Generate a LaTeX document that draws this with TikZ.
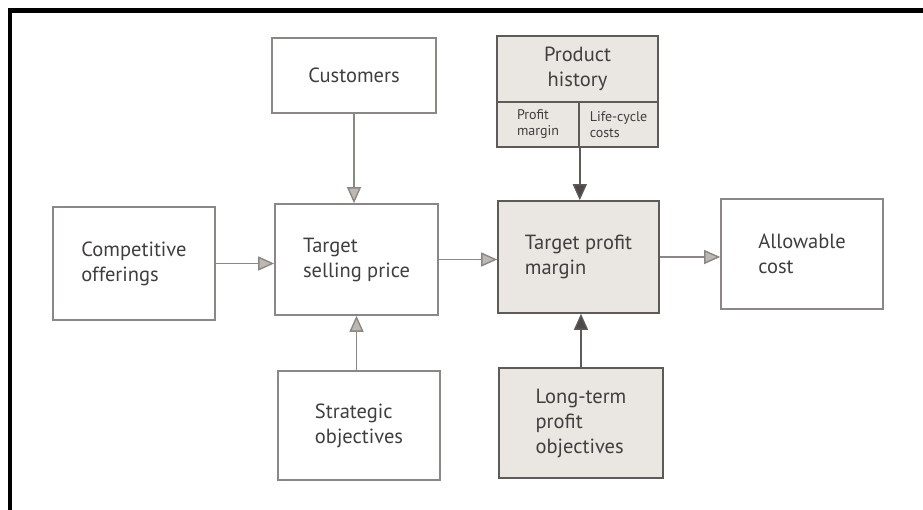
\documentclass[tikz,border=0pt]{standalone}
\usepackage{fontspec}
\setmainfont{PT Sans}
\usetikzlibrary{arrows.meta}
\definecolor{boxline}{HTML}{8A8784}
\definecolor{darkline}{HTML}{5E5A58}
\definecolor{shade}{HTML}{EAE6E1}
\definecolor{tiplight}{HTML}{BDB8B3}
\definecolor{tipdark}{HTML}{4E4848}
\definecolor{ink}{HTML}{403E3E}

\begin{document}
\begin{tikzpicture}[x=1pt,y=-1pt,
    box/.style={draw=boxline,line width=1.6pt,align=left,text=ink,inner sep=0pt,
        font=\fontsize{20.5}{25}\selectfont},
    shadebox/.style={box,draw=darkline,fill=shade},
    small/.style={font=\fontsize{14}{16}\selectfont},
    lightarrow/.style={draw=boxline,line width=1.4pt,-{Triangle[length=16pt,width=14pt,fill=tiplight]}},
    darkarrow/.style={draw=darkline,line width=1.4pt,-{Triangle[length=16pt,width=14pt,fill=tipdark]}}]
    \useasboundingbox (0,0) rectangle (923,510);
    \draw[line width=4.5pt] (10,512) -- (10,10.5) -- (925,10.5);

    \node[box,minimum width=164pt,minimum height=75pt,align=center] (cust) at (354,75.5) {Customers};
    \node[shadebox,minimum width=161pt,minimum height=66pt,align=center] (histtop) at (577.5,69) {Product\\history};
    \node[shadebox,small,minimum width=82pt,minimum height=45pt] (histl) at (538,124.5) {Profit\\margin};
    \node[shadebox,small,minimum width=79pt,minimum height=45pt] (histr) at (618.5,124.5) {Life-cycle\\costs};

    \node[box,minimum width=162pt,minimum height=113pt] (comp) at (134,263.5) {Competitive\\offerings};
    \node[box,minimum width=163pt,minimum height=111pt] (tsp) at (356.5,259.5) {Target\\selling price};
    \node[shadebox,minimum width=161pt,minimum height=112pt] (tpm) at (578.5,257) {Target profit\\margin};
    \node[box,minimum width=162pt,minimum height=110pt] (allow) at (802,254) {Allowable\\cost};

    \node[box,minimum width=162pt,minimum height=109pt] (strat) at (359,425.5) {Strategic\\objectives};
    \node[shadebox,minimum width=164pt,minimum height=110pt] (ltp) at (581,423) {Long-term\\profit\\objectives};

    \draw[lightarrow] (comp.east) -- (comp.east -| tsp.west);
    \draw[lightarrow] (tsp.east) -- (tsp.east -| tpm.west);
    \draw[lightarrow] (tpm.east) -- (tpm.east -| allow.west);
    \draw[lightarrow] (cust.south) -- (cust.south |- tsp.north);
    \draw[lightarrow] (tsp.south |- strat.north) -- (tsp.south);
    \draw[darkarrow] (histl.south east) -- (histl.south east |- tpm.north);
    \draw[darkarrow] (ltp.north) -- (ltp.north |- tpm.south);
\end{tikzpicture}
\end{document}
